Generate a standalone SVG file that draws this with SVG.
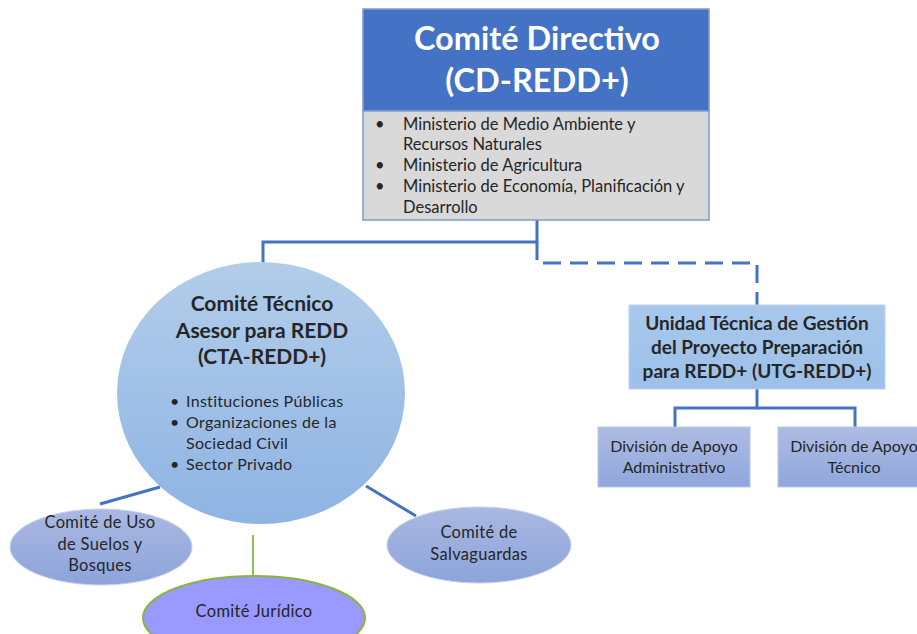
<svg xmlns="http://www.w3.org/2000/svg" width="917" height="634" viewBox="0 0 917 634">
<defs>
<linearGradient id="gCircle" x1="0" y1="0" x2="0" y2="1"><stop offset="0" stop-color="#B2CDEA"/><stop offset="1" stop-color="#8EB4E3"/></linearGradient>
<linearGradient id="gUtg" x1="0" y1="0" x2="0" y2="1"><stop offset="0" stop-color="#A8C8EC"/><stop offset="1" stop-color="#9CC0E8"/></linearGradient>
<linearGradient id="gDiv" x1="0" y1="0" x2="0" y2="1"><stop offset="0" stop-color="#AEBCE3"/><stop offset="1" stop-color="#8FA7DC"/></linearGradient>
<linearGradient id="gEll" x1="0" y1="0" x2="0" y2="1"><stop offset="0" stop-color="#AAB8E2"/><stop offset="1" stop-color="#8DA4DA"/></linearGradient>
</defs>
<style>
text{font-family:Lato,"Open Sans","Liberation Sans",sans-serif;fill:#262626}
.c{text-anchor:middle}
.b{font-weight:bold}
.conn{fill:none;stroke:#4472C4;stroke-width:3}
.sm{font-size:16.5px}
.el{font-size:16.5px;letter-spacing:0.3px}
</style>
<g id="connectors">
<polyline class="conn" points="537,220 537,242 263,242 263,263"/>
<polyline class="conn" points="537,242 537,263 757,263 757,305" stroke-dasharray="18,9"/>
<polyline class="conn" points="757,389 757,408 675,408 675,427"/>
<polyline class="conn" points="757,408 855,408 855,427"/>
<line class="conn" x1="160" y1="487" x2="100" y2="504"/>
<line class="conn" x1="366" y1="486" x2="416" y2="516"/>
<line x1="253" y1="535" x2="253" y2="576" stroke="#92C14A" stroke-width="2"/>
</g>
<g id="cd">
<rect x="363" y="9" width="346" height="102" fill="#4472C4" stroke="#7F9BCE" stroke-width="1.5"/>
<rect x="363" y="111" width="346" height="109" fill="#D9D9D9" stroke="#7F9BCE" stroke-width="1.5"/>
<text class="c b" x="537" y="50" font-size="32.5" style="fill:#fff">Comité Directivo</text>
<text class="c b" x="537" y="92" font-size="32.5" style="fill:#fff">(CD-REDD+)</text>
<g class="sm">
<text x="375" y="130">•</text><text x="403" y="130">Ministerio de Medio Ambiente y</text>
<text x="403" y="150">Recursos Naturales</text>
<text x="375" y="171">•</text><text x="403" y="171">Ministerio de Agricultura</text>
<text x="375" y="192">•</text><text x="403" y="192">Ministerio de Economía, Planificación y</text>
<text x="403" y="213">Desarrollo</text>
</g>
</g>
<g id="cta">
<ellipse cx="261" cy="393" rx="144" ry="131" fill="url(#gCircle)"/>
<text class="c b" x="262" y="311" font-size="21">Comité Técnico</text>
<text class="c b" x="262" y="338" font-size="21">Asesor para REDD</text>
<text class="c b" x="262" y="364" font-size="21">(CTA-REDD+)</text>
<g font-size="16" letter-spacing="0.3">
<text x="170" y="407">•</text><text x="186" y="407">Instituciones Públicas</text>
<text x="170" y="428">•</text><text x="186" y="428">Organizaciones de la</text>
<text x="186" y="449">Sociedad Civil</text>
<text x="170" y="470">•</text><text x="186" y="470">Sector Privado</text>
</g>
</g>
<g id="utg">
<rect x="629" y="305" width="256" height="84" fill="url(#gUtg)" stroke="#BDD3EE" stroke-width="1"/>
<text class="c b" x="757" y="330" font-size="19">Unidad Técnica de Gestión</text>
<text class="c b" x="757" y="354" font-size="19">del Proyecto Preparación</text>
<text class="c b" x="757" y="378" font-size="19">para REDD+ (UTG-REDD+)</text>
</g>
<g id="div-admin">
<rect x="598" y="427" width="152" height="60" fill="url(#gDiv)" stroke="#B8C6E8" stroke-width="1"/>
<text class="c" x="674" y="452" font-size="16">División de Apoyo</text>
<text class="c" x="674" y="473" font-size="16">Administrativo</text>
</g>
<g id="div-tec">
<rect x="778" y="427" width="152" height="60" fill="url(#gDiv)" stroke="#B8C6E8" stroke-width="1"/>
<text class="c" x="854" y="452" font-size="16">División de Apoyo</text>
<text class="c" x="854" y="473" font-size="16">Técnico</text>
</g>
<g id="uso">
<ellipse cx="101" cy="547" rx="91" ry="38" fill="url(#gEll)" stroke="#C7D1EC" stroke-width="1"/>
<text class="c el" x="100" y="528">Comité de Uso</text>
<text class="c el" x="100" y="550">de Suelos y</text>
<text class="c el" x="100" y="571">Bosques</text>
</g>
<g id="salv">
<ellipse cx="479" cy="545" rx="92" ry="38" fill="url(#gEll)" stroke="#C7D1EC" stroke-width="1"/>
<text class="c el" x="479" y="538">Comité de</text>
<text class="c el" x="479" y="560">Salvaguardas</text>
</g>
<g id="juridico">
<ellipse cx="254" cy="618" rx="111" ry="42" fill="#9999FF" stroke="#8DB33A" stroke-width="2"/>
<text class="c el" x="254" y="617">Comité Jurídico</text>
</g>
</svg>
